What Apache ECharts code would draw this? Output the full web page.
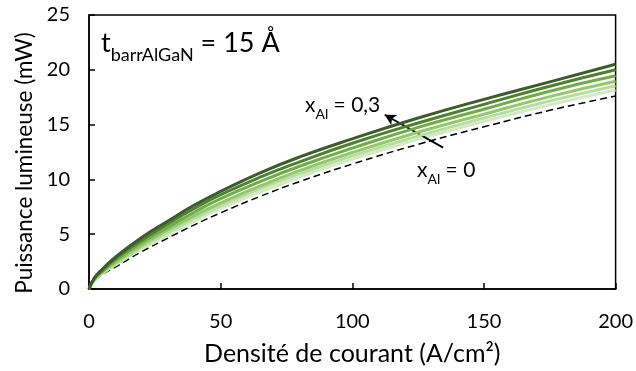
<!DOCTYPE html>
<html>
<head>
<meta charset="utf-8">
<script src="https://cdn.jsdelivr.net/npm/echarts@6/dist/echarts.min.js"></script>
<style>
  html, body { margin: 0; padding: 0; background: #fff; }
  #chart { width: 636px; height: 371px; }
</style>
</head>
<body>
<div id="chart"></div>
<script>
// densité de courant (A/cm²)
var courant = [0, 2, 5, 10, 20, 30, 40, 50, 65, 80, 100, 125, 150, 175, 200]

// puissance lumineuse (mW) pour chaque x_Al
var p_x000 = [0, 0.7, 1.3, 2.0, 3.4, 4.65, 5.85, 6.95, 8.45, 9.8, 11.4, 13.2, 14.8, 16.3, 17.6]
var p_x005 = [0, 0.75, 1.4, 2.2, 3.65, 4.95, 6.2, 7.35, 8.85, 10.2, 11.85, 13.65, 15.3, 16.8, 18.15]
var p_x010 = [0, 0.8, 1.45, 2.3, 3.8, 5.15, 6.45, 7.6, 9.15, 10.5, 12.15, 13.95, 15.6, 17.15, 18.55]
var p_x015 = [0, 0.85, 1.55, 2.4, 4.0, 5.4, 6.7, 7.85, 9.4, 10.8, 12.45, 14.3, 15.95, 17.55, 18.95]
var p_x020 = [0, 0.9, 1.6, 2.6, 4.25, 5.65, 7.0, 8.25, 9.8, 11.2, 12.85, 14.75, 16.4, 18.05, 19.45]
var p_x025 = [0, 0.95, 1.7, 2.75, 4.45, 5.95, 7.35, 8.6, 10.2, 11.6, 13.3, 15.15, 16.85, 18.5, 20.0]
var p_x030 = [0, 1.0, 1.8, 2.9, 4.7, 6.2, 7.65, 8.9, 10.6, 12.05, 13.7, 15.6, 17.3, 18.9, 20.5]

var xTicks = [0, 50, 100, 150, 200]
var yTicks = [0, 5, 10, 15, 20, 25]

// flèche x_Al = 0 -> 0,3 (en unités du graphe)
var flecheDebut = [134.5, 12.9]
var flecheFin = [112.3, 15.9]

function pts (ys) {
  return courant.map(function (c, i) { return [c, ys[i]] })
}

var FONT = 'Lato, "Open Sans", sans-serif'

// séries vertes, de la plus claire à la plus foncée
var vertes = [
  { name: 'x=0.05', data: p_x005, color: '#d3e9c6' },
  { name: 'x=0.10', data: p_x010, color: '#b9dca0' },
  { name: 'x=0.15', data: p_x015, color: '#93c86f' },
  { name: 'x=0.20', data: p_x020, color: '#6fae45' },
  { name: 'x=0.25', data: p_x025, color: '#4f8230' },
  { name: 'x=0.30', data: p_x030, color: '#3a5e27' }
]

var series = [{
  name: 'x=0',
  type: 'line',
  smooth: true,
  symbol: 'none',
  data: pts(p_x000),
  lineStyle: { color: '#000', width: 1.5, type: [7, 4] },
  z: 3
}]
vertes.forEach(function (s, i) {
  series.push({
    name: s.name,
    type: 'line',
    smooth: true,
    symbol: 'none',
    data: pts(s.data),
    lineStyle: { color: s.color, width: 3 },
    z: 4 + i
  })
})
// la flèche passe au-dessus des courbes
series.push({
  name: 'fleche',
  type: 'line',
  data: [],
  z: 20,
  markLine: {
    silent: true,
    symbol: ['none', 'arrow'],
    symbolSize: [9, 11],
    label: { show: false },
    lineStyle: { color: '#000', width: 1.8, type: 'solid' },
    data: [[{ coord: flecheDebut }, { coord: flecheFin }]]
  }
})

function indice (main, sub, size, subSize, drop) {
  return {
    text: '{b|' + main + '}{s|' + sub + '}',
    rich: {
      b: { fontSize: size, fill: '#000', fontFamily: FONT, verticalAlign: 'bottom' },
      s: { fontSize: subSize, fill: '#000', fontFamily: FONT, padding: [0, 0, -drop, 0], verticalAlign: 'bottom' }
    }
  }
}

var chart = echarts.init(document.getElementById('chart'))
chart.setOption({
  animation: false,
  textStyle: { fontFamily: FONT },
  grid: {
    left: 89, right: 18, top: 15, bottom: 79,
    show: true, borderColor: '#000', borderWidth: 1.5
  },
  xAxis: {
    type: 'value',
    min: xTicks[0], max: xTicks[xTicks.length - 1], interval: 50,
    name: 'Densité de courant (A/cm²)',
    nameLocation: 'middle', nameGap: 52,
    nameTextStyle: { fontSize: 25, color: '#000', fontFamily: FONT },
    axisLine: { lineStyle: { color: '#000', width: 1.5 } },
    axisTick: { inside: true, length: 6, lineStyle: { color: '#000', width: 1.5 } },
    axisLabel: { fontSize: 20, color: '#000', margin: 23, fontFamily: FONT },
    splitLine: { show: false }
  },
  yAxis: {
    type: 'value',
    min: yTicks[0], max: yTicks[yTicks.length - 1], interval: 5,
    axisLine: { lineStyle: { color: '#000', width: 1.5 } },
    axisTick: { inside: true, length: 6, lineStyle: { color: '#000', width: 1.5 } },
    axisLabel: { fontSize: 20, color: '#000', margin: 19, fontFamily: FONT },
    splitLine: { show: false }
  },
  graphic: [
    {
      type: 'text', x: 25, y: 163, rotation: Math.PI / 2,
      style: {
        text: 'Puissance lumineuse (mW)',
        fontSize: 22.5, fill: '#000', fontFamily: FONT,
        textAlign: 'center', textVerticalAlign: 'middle'
      }
    },
    (function () {
      var t = indice('t', 'barrAlGaN', 27, 18, 7)
      t.text += '{b| = 15 Å}'
      return { type: 'text', left: 101, top: 30, style: t }
    })(),
    (function () {
      var t = indice('x', 'Al', 21, 14, 5)
      t.text += '{b| = 0,3}'
      return { type: 'text', left: 305, top: 95, style: t }
    })(),
    (function () {
      var t = indice('x', 'Al', 21, 14, 5)
      t.text += '{b| = 0}'
      return { type: 'text', left: 417, top: 160, style: t }
    })()
  ],
  series: series
})
</script>
</body>
</html>
